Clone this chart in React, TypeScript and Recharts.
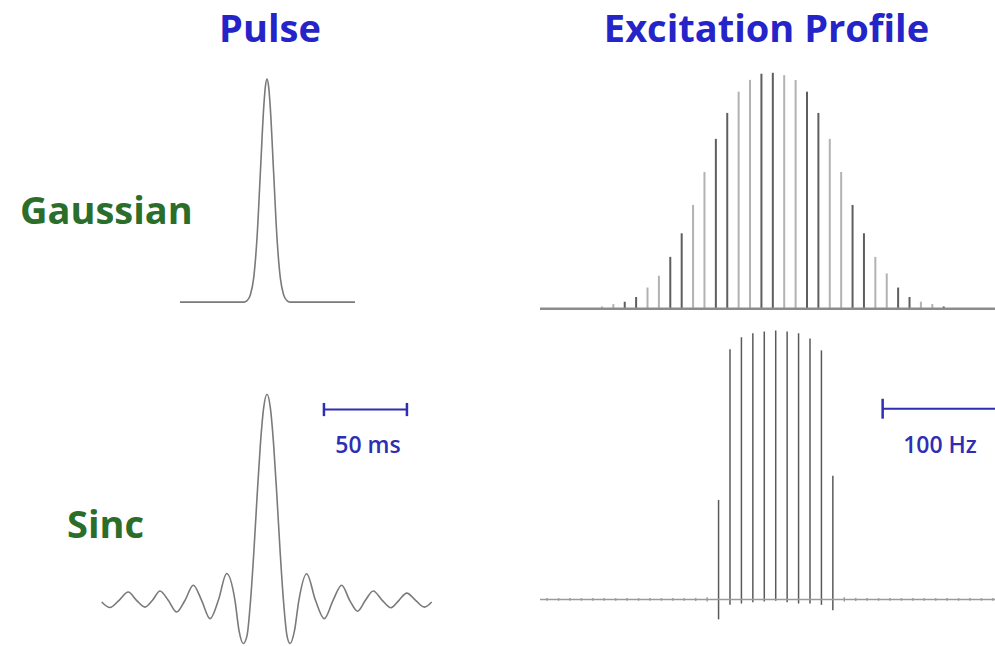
import React from 'react';
import { LineChart, Line, BarChart, Bar, Cell, XAxis, YAxis, ReferenceLine } from 'recharts';

// Pulse shapes: time in ms, amplitude in % of the peak
const gaussPulseTime = [-52.4, -14, -12, -10, -8, -6, -4, -2, -1, 0, 1, 2, 4, 6, 8, 10, 12, 14, 53];
const gaussPulseAmp = [0, 0, 0.7, 3.3, 11, 29, 58, 87, 96.5, 100, 96.5, 87, 58, 29, 11, 3.3, 0.7, 0, 0];

const sincPulseTime = [
  -99.6, -94.6, -89.1, -83.6, -78.6, -73.5, -69, -64.5, -59.5, -54.4, -49.4, -44.4, -39.4, -34.3,
  -29.3, -24.3, -19.3, -16.8, -14.3, -12, -9.9, -8, -6, -4, -2, 0, 2, 4, 6, 8, 9.9, 12, 13.9, 16.5,
  19.2, 23.9, 29.2, 34.5, 39.8, 45, 49.8, 54.6, 59.3, 64, 69.4, 74.7, 79.5, 84.2, 89.5, 94.8, 99.2,
];
const sincPulseAmp = [
  -0.8, -3.5, 0, 4, 0, -3.3, 0, 4.5, 0, -5.7, 0, 7.3, 0, -8.9,
  0, 13, 0, -15, -21, -17, 0, 22.5, 50, 75.5, 93.5, 100, 93.5, 75.5, 50, 22.5, 0, -17, -21, -15,
  0, 12.9, 0, -8.9, 0, 7.3, 0, -5.3, 0, 4.5, 0, -3.6, 0, 3.5, 0, -3.3, -0.8,
];

// Excitation profiles: offset in Hz, amplitude in % of the tallest line
const gaussProfileHz = [
  -150, -140, -130, -120, -110, -100, -90, -80, -70, -60, -50, -40, -30, -20, -10, 0,
  10, 20, 30, 40, 50, 60, 70, 80, 90, 100, 110, 120, 130, 140, 150,
];
const gaussProfileAmp = [
  1, 2, 3, 5, 9, 14, 22, 32, 44, 58, 72, 83, 92, 97, 99.6, 100,
  99, 97, 92, 83, 72, 58, 44, 32, 22, 15, 9, 5, 3, 2, 1,
];

const sincProfileHz = [
  -200, -190, -180, -170, -160, -150, -140, -130, -120, -110, -100, -90, -80, -70, -60,
  -50, -40, -30, -20, -10, 0, 10, 20, 30, 40, 50,
  60, 70, 80, 90, 100, 110, 120, 130, 140, 150, 160, 170, 180, 190,
];
const sincProfileTop = [
  0.5, 0.5, 0.5, 0.5, 0.5, 0.5, 0.5, 0.5, 0.5, 0.5, 0.5, 0.5, 0.5, 0.6, 0.8,
  37, 93, 97.5, 99, 99.6, 100, 99.6, 99, 97, 92.6, 46,
  0.8, 0.6, 0.5, 0.5, 0.5, 0.5, 0.5, 0.5, 0.5, 0.5, 0.5, 0.5, 0.5, 0.5,
];
const sincProfileDip = [
  -0.5, -0.5, -0.5, -0.5, -0.5, -0.5, -0.5, -0.5, -0.5, -0.5, -0.5, -0.5, -0.5, -0.6, -0.8,
  -7.4, -2, -1.5, -1, -0.8, -0.5, -1, -1.5, -1.5, -2, -4,
  -0.8, -0.6, -0.5, -0.5, -0.5, -0.5, -0.5, -0.5, -0.5, -0.5, -0.5, -0.5, -0.5, -0.5,
];

const gaussPulse = gaussPulseTime.map((t, i) => ({ t, v: gaussPulseAmp[i] }));
const sincPulse = sincPulseTime.map((t, i) => ({ t, v: sincPulseAmp[i] }));
const gaussProfile = gaussProfileHz.map((hz, i) => ({ hz, range: [0, gaussProfileAmp[i]] }));
const sincProfile = sincProfileHz.map((hz, i) => ({ hz, range: [sincProfileDip[i], sincProfileTop[i]] }));

const BLUE = '#2424c8';
const SCALE_BLUE = '#2e2eb4';
const GREEN = '#2b6e2b';
const TRACE = '#7a7a7a';
const FONT = '"Open Sans", sans-serif';
const NO_MARGIN = { top: 0, right: 0, bottom: 0, left: 0 };

const box = (left: number, top: number): React.CSSProperties => ({ position: 'absolute', left, top });

export default function App() {
  return (
    <div style={{ position: 'absolute', left: 0, top: 0, width: 995, height: 646, overflow: 'hidden', background: '#fff' }}>
      {/* Gaussian pulse */}
      <div style={box(101, 68.15)}>
        <LineChart width={332} height={245.3} data={gaussPulse} margin={NO_MARGIN}>
          <XAxis type="number" dataKey="t" domain={[-100, 100]} hide />
          <YAxis type="number" domain={[-5, 105]} hide />
          <Line type="monotone" dataKey="v" stroke={TRACE} strokeWidth={1.6} dot={false} isAnimationActive={false} />
        </LineChart>
      </div>

      {/* Sinc pulse + 50 ms scale bar */}
      <div style={box(101, 383.7)}>
        <LineChart width={332} height={278.1} data={sincPulse} margin={NO_MARGIN}>
          <XAxis type="number" dataKey="t" domain={[-100, 100]} hide />
          <YAxis type="number" domain={[-30, 105]} allowDataOverflow hide />
          <ReferenceLine segment={[{ x: 34.3, y: 92.6 }, { x: 84.3, y: 92.6 }]} stroke={SCALE_BLUE} strokeWidth={2} ifOverflow="visible" />
          <ReferenceLine segment={[{ x: 34.3, y: 89.4 }, { x: 34.3, y: 95.8 }]} stroke={SCALE_BLUE} strokeWidth={2.5} ifOverflow="visible" />
          <ReferenceLine segment={[{ x: 84.3, y: 89.4 }, { x: 84.3, y: 95.8 }]} stroke={SCALE_BLUE} strokeWidth={2.5} ifOverflow="visible" />
          <Line type="monotone" dataKey="v" stroke={TRACE} strokeWidth={1.6} dot={false} isAnimationActive={false} />
        </LineChart>
      </div>

      {/* Gaussian excitation profile */}
      <div style={box(540, 60.5)}>
        <BarChart width={455} height={259.6} data={gaussProfile} margin={NO_MARGIN}>
          <XAxis type="number" dataKey="hz" domain={[-204.1, 195.3]} hide />
          <YAxis type="number" domain={[-5, 105]} hide />
          <ReferenceLine y={0} stroke="#8c8c8c" strokeWidth={2.5} />
          <Bar dataKey="range" barSize={2} isAnimationActive={false}>
            {gaussProfile.map((_, i) => (
              <Cell key={`g-${i}`} fill={i % 4 >= 2 ? '#5e5e5e' : '#b2b2b2'} />
            ))}
          </Bar>
        </BarChart>
      </div>

      {/* Sinc excitation profile + 100 Hz scale bar */}
      <div style={box(540, 317.25)}>
        <BarChart width={455} height={309.35} data={sincProfile} margin={NO_MARGIN}>
          <XAxis type="number" dataKey="hz" domain={[-206.2, 191.9]} hide />
          <YAxis type="number" domain={[-10, 105]} hide />
          <ReferenceLine y={0} stroke="#9a9a9a" strokeWidth={1.5} />
          <ReferenceLine segment={[{ x: 93.6, y: 70.9 }, { x: 193.6, y: 70.9 }]} stroke={SCALE_BLUE} strokeWidth={2} ifOverflow="visible" />
          <ReferenceLine segment={[{ x: 93.6, y: 67.2 }, { x: 93.6, y: 74.6 }]} stroke={SCALE_BLUE} strokeWidth={2.5} ifOverflow="visible" />
          <Bar dataKey="range" barSize={1.5} isAnimationActive={false}>
            {sincProfile.map((d, i) => (
              <Cell key={`s-${i}`} fill={d.range[1] > 5 ? '#5a5a5a' : '#a0a0a0'} />
            ))}
          </Bar>
        </BarChart>
      </div>

      <svg width={995} height={646} style={{ position: 'absolute', left: 0, top: 0, pointerEvents: 'none' }}>
        <g fontFamily={FONT} fontWeight={700}>
          <text x={270} y={41.7} fontSize={38} fill={BLUE} textAnchor="middle">Pulse</text>
          <text x={766.5} y={41.7} fontSize={38} fill={BLUE} textAnchor="middle">Excitation Profile</text>
          <text x={20} y={224.3} fontSize={38} fill={GREEN}>Gaussian</text>
          <text x={67} y={538.3} fontSize={38} fill={GREEN}>Sinc</text>
        </g>
        <g fontFamily={FONT} fontWeight={600} fill={SCALE_BLUE} fontSize={23} textAnchor="middle">
          <text x={368} y={452.7}>50 ms</text>
          <text x={940} y={452.7}>100 Hz</text>
        </g>
      </svg>
    </div>
  );
}
